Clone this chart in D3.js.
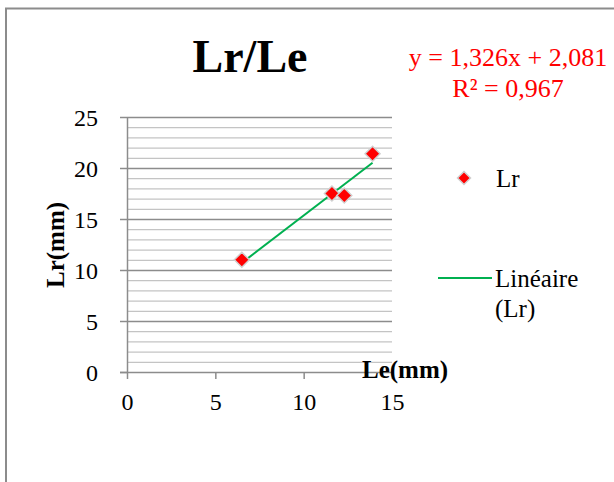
<!DOCTYPE html>
<html>
<head>
<meta charset="utf-8">
<script src="https://cdn.jsdelivr.net/npm/d3@7"></script>
<style>
  html, body { margin: 0; padding: 0; background: #fff; }
  svg { display: block; }
  text { font-family: "Liberation Serif", "Times New Roman", serif; }
</style>
</head>
<body>
<svg id="chart" width="614" height="482"></svg>
<script>
// ---- data ----
const seriesName = "Lr";
const trendName = ["Linéaire", "(Lr)"];
const leValues = [6.5, 11.6, 12.3, 13.9];   // x: Le (mm)
const lrValues = [11.0, 17.5, 17.3, 21.4];  // y: Lr (mm)
const xTicks = [0, 5, 10, 15];
const yTicks = [0, 5, 10, 15, 20, 25];
const yMinorTicks = d3.range(0, 26, 1);
const trendSlope = 1.326;
const trendIntercept = 2.081;
const equationLines = ["y = 1,326x + 2,081", "R² = 0,967"];
const titleText = "Lr/Le";
const xTitle = "Le(mm)";
const yTitle = "Lr(mm)";

const svg = d3.select("#chart");

// outer chart frame (extends beyond the picture on right / bottom)
svg.append("rect")
  .attr("x", 6).attr("y", 8.5)
  .attr("width", 640).attr("height", 520)
  .attr("fill", "#fff")
  .attr("stroke", "#8c8c8c").attr("stroke-width", 2);

const x = d3.scaleLinear().domain([0, 15]).range([127, 392]);
const y = d3.scaleLinear().domain([0, 25]).range([372, 117]);

// minor gridlines
svg.append("g")
  .attr("transform", `translate(${x(0)},0)`)
  .call(d3.axisLeft(y).tickValues(yMinorTicks.filter(v => v % 5 !== 0))
        .tickSize(-(x(15) - x(0))).tickFormat(""))
  .call(g => g.select(".domain").remove())
  .call(g => g.selectAll("line").attr("stroke", "#c4c4c4").attr("stroke-width", 1.3));

// major gridlines
svg.append("g")
  .attr("transform", `translate(${x(0)},0)`)
  .call(d3.axisLeft(y).tickValues(yTicks.filter(v => v !== 0))
        .tickSize(-(x(15) - x(0))).tickFormat(""))
  .call(g => g.select(".domain").remove())
  .call(g => g.selectAll("line").attr("stroke", "#8c8c8c").attr("stroke-width", 1.5));

// y axis
svg.append("g")
  .attr("transform", `translate(${x(0)},0)`)
  .call(d3.axisLeft(y).tickValues(yTicks).tickSize(7).tickPadding(22).tickSizeOuter(0))
  .call(g => g.select(".domain").attr("stroke", "#8c8c8c").attr("stroke-width", 1.5))
  .call(g => g.selectAll(".tick line").attr("stroke", "#8c8c8c").attr("stroke-width", 1.5))
  .call(g => g.selectAll(".tick text")
        .style("font-family", "'Liberation Serif', serif").style("font-size", "24px").attr("fill", "#000")
        .attr("x", -29).attr("dy", "0.34em"));

// x axis
svg.append("g")
  .attr("transform", `translate(0,${y(0)})`)
  .call(d3.axisBottom(x).tickValues(xTicks).tickSize(7).tickSizeOuter(0).tickPadding(14))
  .call(g => g.select(".domain").attr("stroke", "#8c8c8c").attr("stroke-width", 1.5)
        .attr("d", `M${x(0) - 7},0.5H${x(15)}`))
  .call(g => g.selectAll(".tick line").attr("stroke", "#8c8c8c").attr("stroke-width", 1.5))
  .call(g => g.selectAll(".tick text")
        .style("font-family", "'Liberation Serif', serif").style("font-size", "24px").attr("fill", "#000"));

// trend line
const tx = d3.extent(leValues);
svg.append("line")
  .attr("x1", x(tx[0])).attr("y1", y(trendSlope * tx[0] + trendIntercept))
  .attr("x2", x(tx[1])).attr("y2", y(trendSlope * tx[1] + trendIntercept))
  .attr("stroke", "#00b050").attr("stroke-width", 2);

// markers
const diamond = r => `M0,${-r}L${r},0L0,${r}L${-r},0Z`;
svg.append("g").selectAll("path")
  .data(leValues.map((v, i) => [v, lrValues[i]]))
  .join("path")
  .attr("transform", d => `translate(${x(d[0])},${y(d[1])})`)
  .attr("d", diamond(7.5))
  .attr("fill", "#ff0000")
  .attr("stroke", "#d0d0d0").attr("stroke-width", 1.5);

// title
svg.append("text")
  .attr("x", 250).attr("y", 72)
  .attr("text-anchor", "middle")
  .style("font-size", "46px").attr("font-weight", "bold")
  .text(titleText);

// equation
svg.append("g").selectAll("text")
  .data(equationLines)
  .join("text")
  .attr("x", 508).attr("y", (d, i) => 66 + i * 31)
  .attr("text-anchor", "middle")
  .style("font-size", "26px").attr("fill", "#ff0000")
  .text(d => d);

// axis titles
svg.append("text")
  .attr("transform", "translate(64,245) rotate(-90)")
  .attr("text-anchor", "middle")
  .style("font-size", "25px").attr("font-weight", "bold")
  .text(yTitle);

svg.append("text")
  .attr("x", 362).attr("y", 378)
  .style("font-size", "25px").attr("font-weight", "bold")
  .text(xTitle);

// legend
const lg = svg.append("g");
lg.append("path")
  .attr("transform", "translate(464,178)")
  .attr("d", diamond(6.5))
  .attr("fill", "#ff0000")
  .attr("stroke", "#d0d0d0").attr("stroke-width", 1.5);
lg.append("text").attr("x", 496).attr("y", 187).style("font-size", "25px").text(seriesName);
lg.append("line")
  .attr("x1", 438).attr("x2", 492).attr("y1", 278).attr("y2", 278)
  .attr("stroke", "#00b050").attr("stroke-width", 2);
lg.append("text").selectAll("tspan")
  .data(trendName)
  .join("tspan")
  .attr("x", 495).attr("y", (d, i) => 287 + i * 30)
  .style("font-size", "25px")
  .text(d => d);
</script>
</body>
</html>
